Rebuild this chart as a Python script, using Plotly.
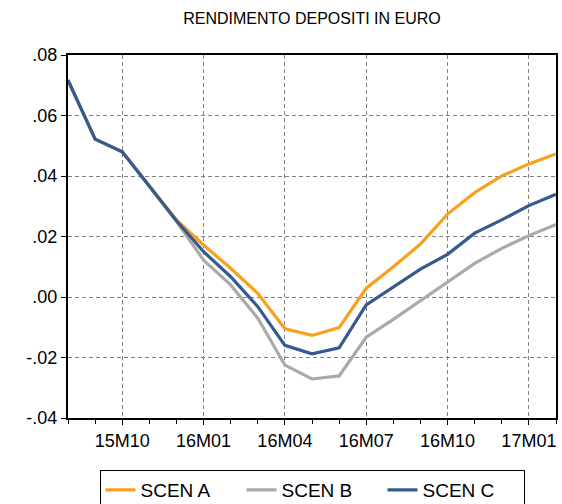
import plotly.graph_objects as go

months = ["15M08", "15M09", "15M10", "15M11", "15M12",
          "16M01", "16M02", "16M03", "16M04", "16M05", "16M06",
          "16M07", "16M08", "16M09", "16M10", "16M11", "16M12",
          "17M01", "17M02"]

scen_a = [0.0717, 0.0522, 0.0480, 0.0368, 0.0255,
          0.0172, 0.0095, 0.0012, -0.0105, -0.0127, -0.0101,
          0.0029, 0.0100, 0.0175, 0.0274, 0.0345, 0.0400,
          0.0440, 0.0473]
scen_b = [0.0717, 0.0522, 0.0480, 0.0368, 0.0250,
          0.0122, 0.0040, -0.0070, -0.0225, -0.0271, -0.0261,
          -0.0133, -0.0074, -0.0013, 0.0051, 0.0111, 0.0161,
          0.0203, 0.0240]
scen_c = [0.0717, 0.0522, 0.0480, 0.0368, 0.0252,
          0.0150, 0.0067, -0.0032, -0.0160, -0.0188, -0.0168,
          -0.0026, 0.0034, 0.0092, 0.0141, 0.0211, 0.0255,
          0.0302, 0.0340]

x_ticks = ["15M10", "16M01", "16M04", "16M07", "16M10", "17M01"]
y_vals = [0.08, 0.06, 0.04, 0.02, 0.0, -0.02, -0.04]
y_text = [".08", ".06", ".04", ".02", ".00", "-.02", "-.04"]

colors = {"SCEN A": "#F8A11E", "SCEN B": "#AAAAAA", "SCEN C": "#355B8E"}

fig = go.Figure()
for name, vals in [("SCEN A", scen_a), ("SCEN B", scen_b), ("SCEN C", scen_c)]:
    fig.add_trace(go.Scatter(x=months, y=vals, mode="lines", name=name,
                             line=dict(color=colors[name], width=3.2)))

font_family = "Liberation Sans, Arial, sans-serif"
fig.update_layout(
    width=562, height=504,
    margin=dict(l=68, r=6, t=55, b=86),
    paper_bgcolor="white", plot_bgcolor="white",
    font=dict(family=font_family, color="black", size=18),
    title=dict(text="RENDIMENTO DEPOSITI IN EURO", x=0.5, xref="paper",
               y=1 - 18 / 504, yref="container", yanchor="middle",
               font=dict(size=16, family=font_family, color="black")),
    showlegend=True,
    legend=dict(orientation="h", x=0.5, xanchor="center", xref="paper",
                y=1 - 470 / 504, yanchor="top", yref="container",
                bordercolor="black", borderwidth=1, font=dict(size=19),
                entrywidth=96, entrywidthmode="pixels", traceorder="normal"),
    xaxis=dict(type="category", range=[0, len(months) - 1], automargin=False,
               tickmode="array", tickvals=x_ticks, ticktext=x_ticks,
               showgrid=True, gridcolor="#808080", griddash="4px,3px", gridwidth=1,
               showline=True, mirror=True, linecolor="black", linewidth=2,
               ticks="outside", ticklen=5, tickcolor="black",
               minor=dict(ticks="outside", dtick=1, ticklen=4, tickcolor="black", showgrid=False),
               tickfont=dict(size=18), zeroline=False),
    yaxis=dict(range=[-0.04, 0.08], tickmode="array", tickvals=y_vals, ticktext=y_text,
               automargin=False,
               showgrid=True, gridcolor="#808080", griddash="4px,3px", gridwidth=1,
               showline=True, mirror=True, linecolor="black", linewidth=2,
               ticks="outside", ticklen=5, tickcolor="black",
               tickfont=dict(size=18), zeroline=False),
)

fig.write_html("out.html", config={"displayModeBar": False},
               post_script="document.body.style.margin='0px';")
